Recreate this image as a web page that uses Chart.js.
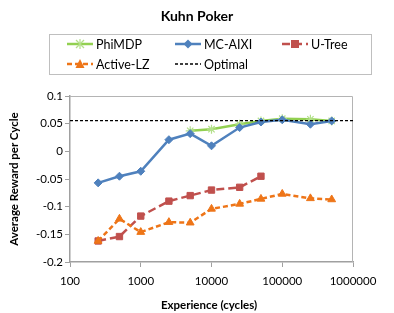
<!DOCTYPE html>
<html>
<head>
<meta charset="utf-8">
<script src="https://cdn.jsdelivr.net/npm/chart.js@4.4.1/dist/chart.umd.min.js"></script>
<style>
body { margin: 0; background: #fff; font-family: Lato, "Liberation Sans", sans-serif; color: #000; }
#wrap { position: relative; width: 394px; height: 313px; }
canvas { position: absolute; left: 0; top: 0; }
.title { position: absolute; left: 0; top: 7px; width: 394px; text-align: center; font-weight: bold; font-size: 14px; }
#legend { position: absolute; left: 49px; top: 34px; width: 321px; height: 39px; border: 1px solid #bfbfbf; }
.item { position: absolute; height: 16px; display: flex; align-items: center; font-size: 12.5px; }
.item svg { margin-right: 3px; }
.ytitle { position: absolute; left: -86px; top: 171px; width: 200px; height: 16px; line-height: 16px; text-align: center;
  font-weight: bold; font-size: 11.5px; transform: rotate(-90deg); }
.xtitle { position: absolute; left: 109px; top: 298px; width: 200px; text-align: center; font-weight: bold; font-size: 11.5px; }
</style>
</head>
<body>
<div id="wrap">
  <canvas id="chart" width="394" height="313"></canvas>
  <div class="title">Kuhn Poker</div>
  <div id="legend"></div>
  <div class="ytitle">Average Reward per Cycle</div>
  <div class="xtitle">Experience (cycles)</div>
</div>
<script>
// experience in cycles
const experience = [250, 500, 1000, 2500, 5000, 10000, 25000, 50000, 100000, 250000, 500000];
const phiMDP   = [null, null, null, null, 0.037, 0.040, 0.049, 0.055, 0.059, 0.058, 0.055];
const mcAixi   = [-0.057, -0.045, -0.036, 0.021, 0.032, 0.010, 0.043, 0.053, 0.057, 0.049, 0.055];
const uTree    = [-0.162, -0.154, -0.117, -0.090, -0.080, -0.070, -0.065, -0.045, null, null, null];
const activeLZ = [-0.162, -0.122, -0.146, -0.128, -0.129, -0.104, -0.095, -0.086, -0.077, -0.085, -0.087];
const optimalX = [100, 1000000];
const optimalY = [1 / 18, 1 / 18];

const xTicks = [100, 1000, 10000, 100000, 1000000];
const yTicks = [-0.2, -0.15, -0.1, -0.05, 0, 0.05, 0.1];

function pts(xs, ys) {
    return xs.map((x, i) => ({ x: x, y: ys[i] }));
}

const series = [
    { label: 'PhiMDP', data: pts(experience, phiMDP), color: '#92D050', marker: '#B3E08A', style: 'star', dash: [], order: 5 },
    { label: 'MC-AIXI', data: pts(experience, mcAixi), color: '#4F81BD', marker: '#4F81BD', style: 'rectRot', dash: [], order: 4 },
    { label: 'U-Tree', data: pts(experience, uTree), color: '#C0504D', marker: '#C0504D', style: 'rect', dash: [8, 4], order: 3 },
    { label: 'Active-LZ', data: pts(experience, activeLZ), color: '#EE7518', marker: '#EE7518', style: 'triangle', dash: [5, 3], order: 2 },
    { label: 'Optimal', data: pts(optimalX, optimalY), color: '#000000', marker: null, style: false, dash: [3, 2], order: 1 }
];

const datasets = series.map(s => ({
    label: s.label,
    data: s.data,
    borderColor: s.color,
    backgroundColor: s.marker || s.color,
    borderWidth: s.style ? 2.5 : 1.3,
    borderDash: s.dash,
    pointStyle: s.style,
    pointRadius: s.style ? (s.style === 'rectRot' ? 4 : 4.5) : 0,
    pointBorderColor: s.marker || s.color,
    pointBackgroundColor: s.marker || s.color,
    pointBorderWidth: s.style === 'star' ? 1.2 : 1,
    tension: 0,
    spanGaps: false,
    order: s.order
}));

const frame = {
    id: 'frame',
    beforeDatasetsDraw(chart) {
        const a = chart.chartArea;
        const ctx = chart.ctx;
        ctx.save();
        ctx.strokeStyle = '#b4b4b4';
        ctx.lineWidth = 1;
        ctx.beginPath();
        ctx.moveTo(a.left, a.top + 0.5);
        ctx.lineTo(a.right - 0.5, a.top + 0.5);
        ctx.lineTo(a.right - 0.5, a.bottom);
        ctx.stroke();
        ctx.restore();
    }
};

const tickFont = { family: 'Lato, "Liberation Sans", sans-serif', size: 11.5 };

new Chart(document.getElementById('chart'), {
    type: 'line',
    data: { datasets: datasets },
    options: {
        responsive: false,
        animation: false,
        layout: { padding: { top: 96, right: 41, left: 0, bottom: 0 } },
        plugins: { legend: { display: false }, title: { display: false }, tooltip: { enabled: false } },
        scales: {
            x: {
                type: 'logarithmic',
                min: 100,
                max: 1000000,
                afterBuildTicks: s => { s.ticks = xTicks.map(v => ({ value: v })); },
                afterFit: s => { s.height = 51; },
                ticks: { color: '#000', font: tickFont, padding: 7, maxRotation: 0, autoSkip: false, callback: v => String(v) },
                grid: { drawOnChartArea: false, tickLength: 5, tickColor: '#a0a0a0' },
                border: { color: '#a0a0a0', width: 1.5 }
            },
            y: {
                type: 'linear',
                min: -0.2,
                max: 0.1,
                afterBuildTicks: s => { s.ticks = yTicks.map(v => ({ value: v })); },
                afterFit: s => { s.width = 70; },
                ticks: { color: '#000', font: tickFont, padding: 2, callback: v => String(Math.round(v * 100) / 100) },
                grid: { drawOnChartArea: false, tickLength: 5, tickColor: '#a0a0a0' },
                border: { color: '#a0a0a0', width: 1.5 }
            }
        }
    },
    plugins: [frame]
});

// legend (html, laid out like the original grid)
const legendPos = [[17, 1], [125, 1], [232, 1], [17, 21], [125, 21]];
function markerSvg(s) {
    const c = s.marker;
    if (s.style === 'star') {
        return `<g stroke="${c}" stroke-width="1.2"><line x1="9" y1="4" x2="17" y2="12"/><line x1="17" y1="4" x2="9" y2="12"/><line x1="13" y1="3" x2="13" y2="13"/></g>`;
    }
    if (s.style === 'rectRot') return `<polygon points="13,3.5 17.5,8 13,12.5 8.5,8" fill="${c}"/>`;
    if (s.style === 'rect') return `<rect x="9" y="4" width="8" height="8" fill="${c}"/>`;
    if (s.style === 'triangle') return `<polygon points="13,3 17.5,12 8.5,12" fill="${c}"/>`;
    return '';
}
const legend = document.getElementById('legend');
series.forEach((s, i) => {
    const div = document.createElement('div');
    div.className = 'item';
    div.style.left = legendPos[i][0] + 'px';
    div.style.top = legendPos[i][1] + 'px';
    const dash = s.dash.length ? `stroke-dasharray="${s.dash.join(',')}"` : '';
    div.innerHTML = `<svg width="26" height="16"><line x1="0" y1="8" x2="26" y2="8" stroke="${s.color}" stroke-width="${s.style ? 2.5 : 1.3}" ${dash}/>${markerSvg(s)}</svg><span>${s.label}</span>`;
    legend.appendChild(div);
});
</script>
</body>
</html>
